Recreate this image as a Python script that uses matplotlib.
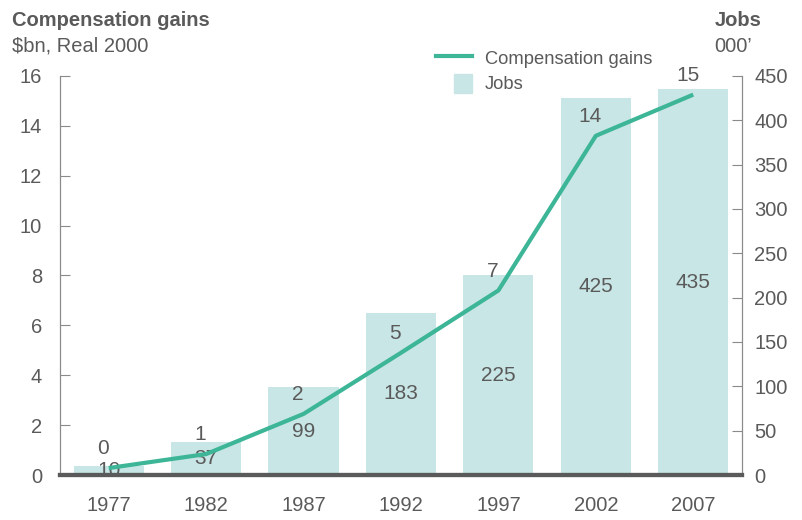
import matplotlib
matplotlib.use("Agg")
import matplotlib.pyplot as plt
from matplotlib.lines import Line2D
from matplotlib.patches import Patch, Rectangle
from matplotlib.legend_handler import HandlerPatch

# data
years = ["1977", "1982", "1987", "1992", "1997", "2002", "2007"]
jobs = [10, 37, 99, 183, 225, 425, 435]
comp_gains = [0.28, 0.84, 2.45, 4.9, 7.4, 13.6, 15.25]
comp_labels = ["0", "1", "2", "5", "7", "14", "15"]

GREY = "#5a5a5a"
BAR = "#c8e6e5"
LINE = "#3db597"

plt.rcParams['font.family'] = ['Liberation Sans', 'DejaVu Sans']

fig = plt.figure(figsize=(8.03, 5.20), dpi=100)
ax = fig.add_axes([0.0747, 0.0865, 0.8493, 0.7675])
ax2 = ax.twinx()

x = range(len(years))

# bars on right axis (jobs)
ax2.bar(x, jobs, width=0.72, color=BAR, zorder=1)
for i, v in enumerate(jobs):
    ax2.text(i, v / 2, str(v), ha="center", va="center", fontsize=15, color=GREY)
ax2.set_ylim(0, 450)
ax2.set_yticks(range(0, 451, 50))

# line on left axis, drawn above bars
ax.set_zorder(ax2.get_zorder() + 1)
ax.patch.set_visible(False)
ax.plot(x, comp_gains, color=LINE, lw=3, solid_capstyle="butt")
for i, (v, lab) in enumerate(zip(comp_gains, comp_labels)):
    ax.annotate(lab, (i, v), xytext=(-4, 7), textcoords="offset points",
                ha="center", va="bottom", fontsize=15, color=GREY)
ax.set_ylim(0, 16)
ax.set_yticks(range(0, 17, 2))
ax.set_xlim(-0.5, 6.5)
ax.set_xticks(list(x))
ax.set_xticklabels(years)

for a in (ax, ax2):
    a.spines["top"].set_visible(False)
    a.spines["left"].set_color("#8a8a8a")
    a.spines["right"].set_color("#8a8a8a")
    a.spines["bottom"].set_color(GREY)
    a.spines["bottom"].set_linewidth(3)
ax.tick_params(axis="y", direction="in", length=7, color="#8a8a8a", pad=13,
               labelsize=14.5, labelcolor=GREY)
ax2.tick_params(axis="y", direction="in", length=7, color="#8a8a8a", pad=9,
                labelsize=14.5, labelcolor=GREY)
ax.tick_params(axis="x", length=0, pad=15, labelsize=14.5, labelcolor=GREY)

# titles
fig.text(0.015, 0.960, "Compensation gains", fontsize=14.5, fontweight="bold",
         color=GREY, va="center")
fig.text(0.015, 0.911, "$bn, Real 2000", fontsize=14.5, color=GREY, va="center")
fig.text(0.890, 0.960, "Jobs", fontsize=14.5, fontweight="bold", color=GREY, va="center")
fig.text(0.890, 0.911, "000\u2019", fontsize=14.5, color=GREY, va="center")


# square legend key sitting at the right end of the handle box
def square_patch(legend, orig_handle, xdescent, ydescent, width, height, fontsize):
    h = 13.5
    return Rectangle((-xdescent + width - h, -ydescent + (height - h) / 2), h, h)


handles = [Line2D([0], [0], color=LINE, lw=3),
           Patch(color=BAR)]
fig.legend(handles, ["Compensation gains", "Jobs"], loc="upper left",
           bbox_to_anchor=(0.522, 0.94), frameon=False, fontsize=13.2,
           labelcolor=GREY, handlelength=2.0, handleheight=1.3,
           labelspacing=0.3, handletextpad=0.7,
           handler_map={Patch: HandlerPatch(patch_func=square_patch)})

fig.savefig("out.png", dpi=100)
